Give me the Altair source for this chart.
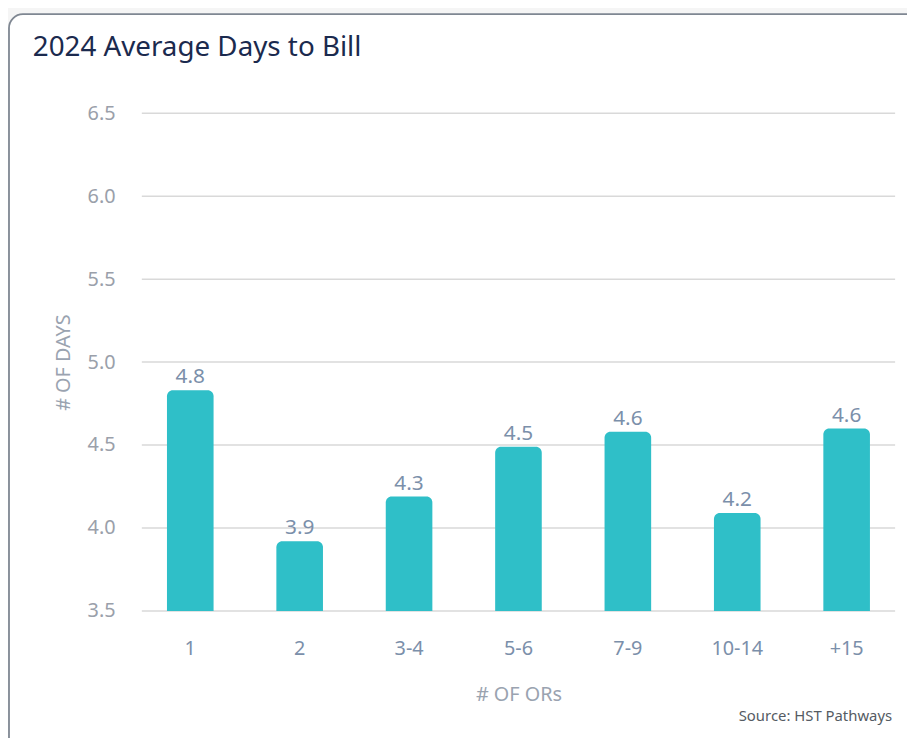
import altair as alt
import pandas as pd

categories = ["1", "2", "3-4", "5-6", "7-9", "10-14", "+15"]
bar_values = [4.83, 3.92, 4.19, 4.49, 4.58, 4.09, 4.60]
bar_labels = ["4.8", "3.9", "4.3", "4.5", "4.6", "4.2", "4.6"]
y_ticks = [3.5, 4.0, 4.5, 5.0, 5.5, 6.0, 6.5]

df = pd.DataFrame({"cat": categories, "val": bar_values, "lab": bar_labels})
grid_df = pd.DataFrame({"t": y_ticks})
one = pd.DataFrame({"k": [0]})

FONT = "Noto Sans"
Y_SCALE = alt.Scale(domain=[3.5, 6.5], nice=False, zero=False)

x_enc = alt.X(
    "cat:N",
    sort=categories,
    scale=alt.Scale(paddingInner=0.574, paddingOuter=0.23),
    axis=alt.Axis(
        title="# OF ORs",
        labelAngle=0,
        labelFontSize=20,
        labelColor="#7b8faa",
        labelPadding=28,
        titleFontSize=20,
        titleFontWeight="normal",
        titleColor="#9aa3b0",
        titlePadding=26,
        ticks=False,
        domain=False,
        grid=False,
        zindex=2,
    ),
)
y_enc = alt.Y(
    "val:Q",
    scale=Y_SCALE,
    axis=alt.Axis(
        title="# OF DAYS",
        values=y_ticks,
        format=".1f",
        labelFontSize=20,
        labelColor="#9aa0aa",
        labelPadding=27,
        titleFontSize=20,
        titleFontWeight="normal",
        titleColor="#9aa3b0",
        titlePadding=14,
        ticks=False,
        domain=False,
        grid=False,
        zindex=2,
    ),
)

card = alt.Chart(one).mark_rect(
    fill="white", stroke="#7f8792", strokeWidth=1.8, cornerRadius=14, clip=False
).encode(x=alt.value(-134), x2=alt.value(820), y=alt.value(-100), y2=alt.value(660))

title = alt.Chart(one).mark_text(
    align="left", baseline="alphabetic", fontSize=28, color="#1b2a4e", font=FONT
).encode(x=alt.value(-110), y=alt.value(-58), text=alt.value("2024 Average Days to Bill"))

source = alt.Chart(one).mark_text(
    align="right", baseline="alphabetic", fontSize=15, color="#555b63", font=FONT
).encode(x=alt.value(757), y=alt.value(613), text=alt.value("Source: HST Pathways"))

grid = alt.Chart(grid_df).mark_rule(color="#d9d9d9", strokeWidth=1.5).encode(
    y=alt.Y("t:Q", scale=Y_SCALE)
)

bars = alt.Chart(df).mark_bar(
    color="#2fbfc8", cornerRadiusTopLeft=6, cornerRadiusTopRight=6
).encode(x=x_enc, y=y_enc, y2=alt.datum(3.5))

labels = alt.Chart(df).mark_text(
    baseline="alphabetic", dy=-7, fontSize=21, color="#7b8faa", font=FONT
).encode(x=alt.X("cat:N", sort=categories), y=alt.Y("val:Q", scale=Y_SCALE), text="lab:N")

chart = alt.layer(card, title, source, grid, bars, labels).properties(
    width=760,
    height=502,
    autosize=alt.AutoSizeParams(type="none"),
    padding={"left": 135, "top": 103, "right": 12, "bottom": 125},
).configure(
    background="#f5f5f5", font=FONT
).configure_view(stroke=None)

chart.save("out.html", embed_options={"renderer": "svg", "actions": False})
